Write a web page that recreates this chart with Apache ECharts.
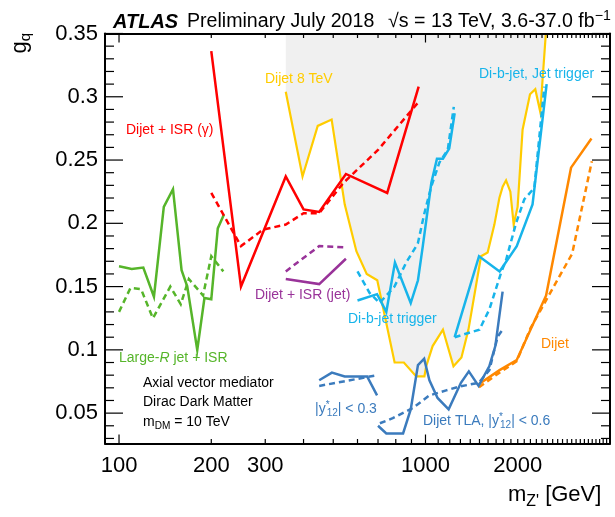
<!DOCTYPE html>
<html><head><meta charset="utf-8">
<script src="https://cdn.jsdelivr.net/npm/echarts@6/dist/echarts.min.js"></script>
<style>html,body{margin:0;padding:0;background:#fff}#c{width:615px;height:517px}</style>
</head><body><div id="c"></div>
<script>
// ---------- tick labels ----------
const xTickLabels = [100, 200, 300, 1000, 2000];
const xMajorTicks = [100, 1000];
const xMinorTicks = [200,300,400,500,600,700,800,900,
  1100,1200,1300,1400,1500,1600,1700,1800,1900,2000,2100,2200,2300,2400,2500,2600,2700,2800,2900,
  3000,3100,3200,3300,3400,3500,3600,3700,3800,3900];
const yTickLabels = [0.05, 0.1, 0.15, 0.2, 0.25, 0.3, 0.35];
const yMinorTicks = [0.03,0.04,0.06,0.07,0.08,0.09,0.11,0.12,0.13,0.14,0.16,0.17,0.18,0.19,0.21,0.22,0.23,0.24,0.26,0.27,0.28,0.29,0.31,0.32,0.33,0.34];

// ---------- data: mass m_Z' [GeV] and coupling g_q ----------
// Large-R jet + ISR
const largeRObsMass = [100,110,120,130,140,150,160,167,180,190,200,210,220];
const largeRObs     = [0.166,0.164,0.165,0.142,0.213,0.227,0.163,0.150,0.100,0.141,0.140,0.196,0.207];
const largeRExpMass = [100,109,118,129,147,159,169,188,200,219];
const largeRExp     = [0.130,0.149,0.148,0.125,0.150,0.136,0.156,0.143,0.174,0.162];
// Dijet + ISR (gamma)
const isrGObsMass = [200,250,350,400,450,550,750,950];
const isrGObs     = [0.336,0.150,0.237,0.211,0.209,0.239,0.224,0.308];
const isrGExpMass = [200,250,295,350,400,450,540,700,950];
const isrGExp     = [0.224,0.182,0.195,0.199,0.208,0.208,0.232,0.258,0.296];
// Dijet + ISR (jet)
const isrJMass = [350,450,550];
const isrJObs  = [0.156,0.152,0.172];
const isrJExp  = [0.162,0.182,0.181];
// Dijet 8 TeV (observed, excluded region above)
const dijet8Mass = [350,397,445,494,545,595,643,696,793,850,933,992,1005,1055,1140,1234,1310,1381,1518,1595,1678,1742,1786,1832,1892,1940,1998,2074,2193,2282,2369,2470];
const dijet8Obs  = [0.304,0.237,0.277,0.282,0.215,0.178,0.160,0.155,0.090,0.090,0.079,0.079,0.087,0.103,0.116,0.087,0.094,0.116,0.174,0.177,0.199,0.220,0.229,0.234,0.225,0.199,0.213,0.274,0.302,0.306,0.288,0.350];
// Di-b-jet trigger
const dibTrigObsMass = [600,695,745,795,895,945,980,1045,1090,1140,1195,1245];
const dibTrigObs     = [0.139,0.144,0.130,0.169,0.137,0.155,0.182,0.232,0.251,0.251,0.259,0.287];
const dibTrigExpMass = [600,657,708,792,865,944,992,1044,1110,1182,1237];
const dibTrigExp     = [0.162,0.145,0.137,0.150,0.169,0.184,0.208,0.229,0.248,0.258,0.292];
// Di-b-jet, Jet trigger
const dibJetObsMass = [1245,1495,1745,1985,2235,2485];
const dibJetObs     = [0.110,0.174,0.162,0.182,0.215,0.310];
const dibJetExpMass = [1245,1500,1616,1765,1832,1974,2101,2265,2442];
const dibJetExp     = [0.110,0.116,0.132,0.161,0.171,0.200,0.219,0.228,0.308];
// Dijet
const dijetObsMass = [1495,1745,1985,2475,2985,3480];
const dijetObs     = [0.073,0.084,0.092,0.143,0.244,0.267];
const dijetExpMass = [1495,1720,1985,2200,3010,3490];
const dijetExp     = [0.0705,0.081,0.091,0.117,0.176,0.249];
// Dijet TLA |y*12| < 0.3
const tla03ObsMass = [450,495,545,645,695];
const tla03Obs     = [0.076,0.082,0.079,0.079,0.064];
const tla03ExpMass = [450,540,695];
const tla03Exp     = [0.0715,0.075,0.080];
// Dijet TLA |y*12| < 0.6
const tla06ObsMass = [700,745,845,895,945,990,1030,1095,1190,1305,1385,1490,1615,1690,1785];
const tla06Obs     = [0.040,0.034,0.034,0.053,0.088,0.093,0.076,0.062,0.053,0.074,0.083,0.0715,0.087,0.103,0.146];
const tla06ExpMass = [710,782,909,1030,1168,1291,1492,1616,1720,1786];
const tla06Exp     = [0.042,0.046,0.054,0.064,0.068,0.071,0.074,0.084,0.1105,0.116];

// ---------- styling ----------
const FONT = "'Liberation Sans', Arial, Helvetica, sans-serif";
const C = {yellow:'#ffcc00', red:'#ff0000', green:'#56b52a', cyan:'#17b4ea', purple:'#993399', orange:'#ff8800', steel:'#3b7bbd'};
const X_MIN = 90, X_MAX = 4000, Y_MIN = 0.026, Y_MAX = 0.35;
const TICK = {xMajor:9, xMinor:4.5, yMajor:18, yMinor:9};

function pts(m, g){ return m.map((x,i)=>[x,g[i]]); }
function line(m, g, color, dashed, width){
  return {type:'line', xAxisIndex:0, yAxisIndex:0, data:pts(m,g), symbol:'none', silent:true, z:3,
    lineStyle:{color:color, width:width||2.5, type: dashed ? [6,4] : 'solid', cap:'butt', join:'miter'}};
}
function xAx(position, showLabel){
  return {type:'log', logBase:10, min:X_MIN, max:X_MAX, position:position, z:6,
    axisLine:{show:true, onZero:false, lineStyle:{color:'#000', width:2}},
    axisTick:{show:false},
    axisLabel: showLabel ? {show:true, customValues:xTickLabels, fontSize:22, fontFamily:FONT, color:'#000', margin:11,
      formatter:v=>String(Math.round(v))} : {show:false},
    splitLine:{show:false}, minorTick:{show:false}, minorSplitLine:{show:false}};
}
function yAx(position, showLabel){
  return {type:'value', min:Y_MIN, max:Y_MAX, position:position, z:6,
    axisLine:{show:true, onZero:false, lineStyle:{color:'#000', width:2}},
    axisTick:{show:false},
    axisLabel: showLabel ? {show:true, customValues:yTickLabels, fontSize:22, fontFamily:FONT, color:'#000', margin:7,
      formatter:v=>String(+v.toFixed(2))} : {show:false},
    splitLine:{show:false}, minorTick:{show:false}, minorSplitLine:{show:false}};
}
// tick marks (inside, on all four frame sides) built from the tick arrays
// item: [x, y, side(0 bottom,1 top,2 left,3 right), length]
const tickItems = [];
xMajorTicks.forEach(v=>{ tickItems.push([v, Y_MIN, 0, TICK.xMajor]); tickItems.push([v, Y_MAX, 1, TICK.xMajor]); });
xMinorTicks.forEach(v=>{ tickItems.push([v, Y_MIN, 0, TICK.xMinor]); tickItems.push([v, Y_MAX, 1, TICK.xMinor]); });
yTickLabels.forEach(v=>{ tickItems.push([X_MIN, v, 2, TICK.yMajor]); tickItems.push([X_MAX, v, 3, TICK.yMajor]); });
yMinorTicks.forEach(v=>{ tickItems.push([X_MIN, v, 2, TICK.yMinor]); tickItems.push([X_MAX, v, 3, TICK.yMinor]); });

function rich(size, color, extra){ return Object.assign({fontSize:size, fontFamily:FONT, fill:color}, extra||{}); }
function label(x, y, text, color, size){
  size = size || 14;
  return {type:'text', x:x, y:y, z:10, silent:true, style:{text:text, fontSize:size, fontFamily:FONT, fill:color,
    verticalAlign:'middle', align:'left',
    rich:{n:rich(size,color), sub:rich(size*0.72,color,{padding:[size*0.6,0,0,0]}),
          sup:rich(size*0.72,color,{padding:[0,0,size*0.6,0]}),
          st:rich(size*0.72,color,{padding:[0,0,size*0.6,0], width:1}),
          it:rich(size,color,{fontStyle:'italic'})}}};
}

const chart = echarts.init(document.getElementById('c'), null, {renderer:'canvas'});
chart.setOption({
  animation:false,
  backgroundColor:'#ffffff',
  grid:{left:105, right:5, top:33.5, bottom:73.5, containLabel:false},
  xAxis:[ xAx('bottom', true), xAx('top', false) ],
  yAxis:[ yAx('left', true), yAx('right', false) ],
  series:[
    {type:'line', xAxisIndex:0, yAxisIndex:0, data:pts(dijet8Mass, dijet8Obs), symbol:'none', silent:true, z:1,
     lineStyle:{width:0, opacity:0}, areaStyle:{color:'#f0f0f0', opacity:1, origin:'end'}},
    line(dijet8Mass, dijet8Obs, C.yellow, false, 2.2),
    line(largeRObsMass, largeRObs, C.green, false),
    line(largeRExpMass, largeRExp, C.green, true),
    line(isrGObsMass, isrGObs, C.red, false),
    line(isrGExpMass, isrGExp, C.red, true),
    line(isrJMass, isrJObs, C.purple, false),
    line(isrJMass, isrJExp, C.purple, true),
    line(dibTrigObsMass, dibTrigObs, C.cyan, false),
    line(dibTrigExpMass, dibTrigExp, C.cyan, true),
    line(dibJetObsMass, dibJetObs, C.cyan, false),
    line(dibJetExpMass, dibJetExp, C.cyan, true),
    line(dijetObsMass, dijetObs, C.orange, false),
    line(dijetExpMass, dijetExp, C.orange, true),
    line(tla03ObsMass, tla03Obs, C.steel, false),
    line(tla03ExpMass, tla03Exp, C.steel, true),
    line(tla06ObsMass, tla06Obs, C.steel, false),
    line(tla06ExpMass, tla06Exp, C.steel, true),
    {type:'custom', xAxisIndex:0, yAxisIndex:0, data:tickItems, encode:{x:0, y:1}, silent:true, clip:false, z:8,
     renderItem:function(params, api){
       const p = api.coord([api.value(0), api.value(1)]);
       const side = api.value(2), len = api.value(3);
       let x2 = p[0], y2 = p[1];
       if (side === 0) y2 -= len; else if (side === 1) y2 += len; else if (side === 2) x2 += len; else x2 -= len;
       return {type:'line', shape:{x1:p[0], y1:p[1], x2:x2, y2:y2}, style:{stroke:'#000', lineWidth:1.2}};
     }}
  ],
  graphic:[
    {type:'text', x:113, y:22, silent:true, style:{text:'ATLAS', fontSize:20, fontWeight:'bold', fontStyle:'italic', fontFamily:FONT, fill:'#000', verticalAlign:'middle'}},
    {type:'text', x:187, y:22, silent:true, style:{text:'Preliminary July 2018', fontSize:19.6, fontFamily:FONT, fill:'#000', verticalAlign:'middle'}},
    label(388, 22, '√s = 13 TeV, 3.6-37.0 fb{sup|−1}', '#000', 19.6),
    label(508, 495, "m{sub|Z'} [GeV]", '#000', 22),
    {type:'text', x:20, y:33, rotation:Math.PI/2, silent:true, style:{text:'g{sub|q}', fontSize:22, fontFamily:FONT, fill:'#000',
      align:'right', verticalAlign:'middle', rich:{n:rich(22,'#000'), sub:rich(15,'#000',{padding:[12,0,0,0]})}}},
    label(265, 79, 'Dijet 8 TeV', C.yellow),
    label(126, 130, 'Dijet + ISR (γ)', C.red),
    label(255, 295, 'Dijet + ISR (jet)', C.purple),
    label(348, 319, 'Di-b-jet trigger', C.cyan),
    label(479, 74, 'Di-b-jet, Jet trigger', C.cyan),
    label(119, 358, 'Large-{it|R} jet + ISR', C.green),
    label(541, 344, 'Dijet', C.orange),
    label(143, 383, 'Axial vector mediator', '#000'),
    label(143, 402, 'Dirac Dark Matter', '#000'),
    label(143, 422, 'm{sub|DM} = 10 TeV', '#000'),
    label(315, 409, '|y{st|*}{sub|12}| < 0.3', C.steel),
    label(423, 421, 'Dijet TLA, |y{st|*}{sub|12}| < 0.6', C.steel)
  ]
});
</script></body></html>
